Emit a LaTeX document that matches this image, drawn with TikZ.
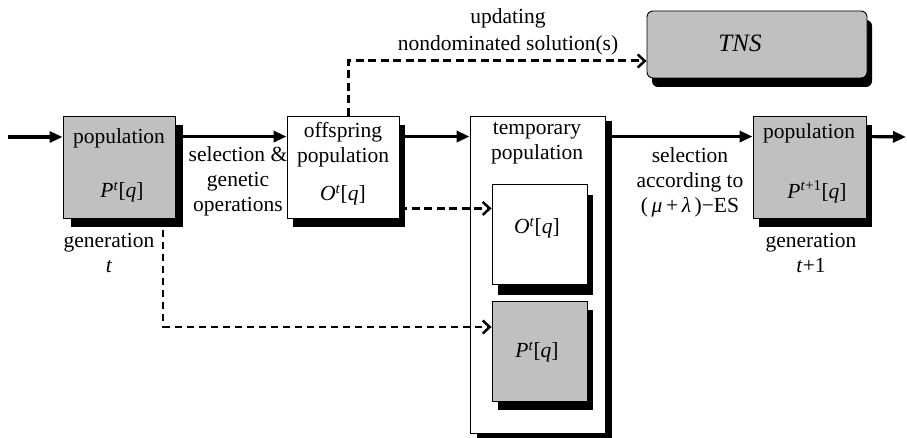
\documentclass[tikz,border=0pt]{standalone}
\usepackage{fontspec}
\setmainfont{Liberation Serif}
\newfontfamily\tnr{Liberation Serif}
\usetikzlibrary{arrows.meta,shadows,calc}
\definecolor{boxgray}{HTML}{C0C0C0}
\tikzset{
  box/.style={draw=black, line width=0.9pt, inner sep=0pt},
  shad/.style 2 args={drop shadow={shadow xshift=#1pt, shadow yshift=-#2pt, fill=black, opacity=1}},
  txt/.style={inner sep=0pt, align=center},
  mainarrow/.style={line width=3.2pt, -{Triangle[length=13pt,width=11pt]}},
  thickdash/.style={line width=3pt, dash pattern=on 8pt off 4.5pt, -{Straight Barb[length=7pt,width=13pt,line width=2.5pt]}},
  thindash/.style={line width=2pt, dash pattern=on 7pt off 5pt, -{Straight Barb[length=7pt,width=13pt,line width=2.5pt]}}
}
\begin{document}
\begin{tikzpicture}[x=1pt,y=-1pt,font=\tnr\fontsize{21.5}{25}\selectfont]
\useasboundingbox (0,0) rectangle (907,438);
% boxes
\node[box, fill=boxgray, shad={8}{9}, minimum width=112pt, minimum height=102pt] (p1) at (119,167) {};
\node[box, fill=white, shad={6}{9}, minimum width=112pt, minimum height=102pt] (off) at (343,167) {};
\node[box, fill=white, shad={7}{5}, minimum width=135pt, minimum height=317pt] (temp) at (537.5,274.5) {};
\node[box, fill=white, shad={6}{11}, minimum width=95pt, minimum height=100pt] (oin) at (539.5,234) {};
\node[box, fill=boxgray, shad={6}{9}, minimum width=95pt, minimum height=100pt] (pin) at (539.5,351) {};
\node[box, fill=boxgray, shad={6}{9}, minimum width=113pt, minimum height=102pt] (p2) at (809.5,167) {};
\node[box, fill=boxgray, rounded corners=6pt, shad={5}{9}, minimum width=220pt, minimum height=67pt] (tns) at (757,44.5) {};
% texts
\node[txt] (p1a) at (119,138) {population};
\node[txt] (p1b) at (122,192) {\textit{P}\textsuperscript{\textit{t}}[\textit{q}]};
\node[txt] (g1) at (109,253) {generation\\\textit{t}};
\node[txt] (sel1) at (238,181) {selection \&\\genetic\\operations};
\node[txt] (offa) at (343,144.5) {offspring\\population};
\node[txt] (offb) at (343,195) {\textit{O}\textsuperscript{\textit{t}}[\textit{q}]};
\node[txt] (tempa) at (537,143.5) {temporary\\population};
\node[txt] (oinb) at (537,228) {\textit{O}\textsuperscript{\textit{t}}[\textit{q}]};
\node[txt] (pinb) at (537,352) {\textit{P}\textsuperscript{\textit{t}}[\textit{q}]};
\node[txt] (upd) at (508,31.5) {updating\\[2pt]nondominated solution(s)};
\node[txt, font=\tnr\fontsize{25}{28}\selectfont\itshape] (tnst) at (740,43) {TNS};
\node[txt] (sel2) at (690,182) {selection\\according to\\(\,\textit{μ}\,+\,\textit{λ}\,)−ES};
\node[txt] (p2a) at (809,133) {population};
\node[txt] (p2b) at (817,192) {\textit{P}\textsuperscript{\textit{t}+1}[\textit{q}]};
\node[txt] (g2) at (811,252.5) {generation\\\textit{t}+1};
% connectors
\coordinate (in) at (8,137);
\coordinate (out) at (906,137);
\draw[mainarrow] (in) -- (in -| p1.west);
\draw[mainarrow] ([yshift=-21pt]p1.north east) -- ([yshift=-21pt]off.north west);
\draw[mainarrow] ([yshift=-21pt]off.north east) -- ([yshift=-21pt]temp.north west);
\draw[mainarrow] ([yshift=-21pt]temp.north east) -- ([yshift=-21pt]p2.north west);
\draw[mainarrow] ([yshift=-21pt]p2.north east) -- (out);
\draw[thickdash] ([xshift=5pt]off.north) |- ([yshift=-16.5pt]tns.west);
\draw[thickdash] ([yshift=10pt]off.south east) coordinate (d1) -- (d1 -| oin.west);
\draw[thindash] ([xshift=-12pt]p1.south east) |- ([yshift=24pt]pin.west);
\end{tikzpicture}
\end{document}
